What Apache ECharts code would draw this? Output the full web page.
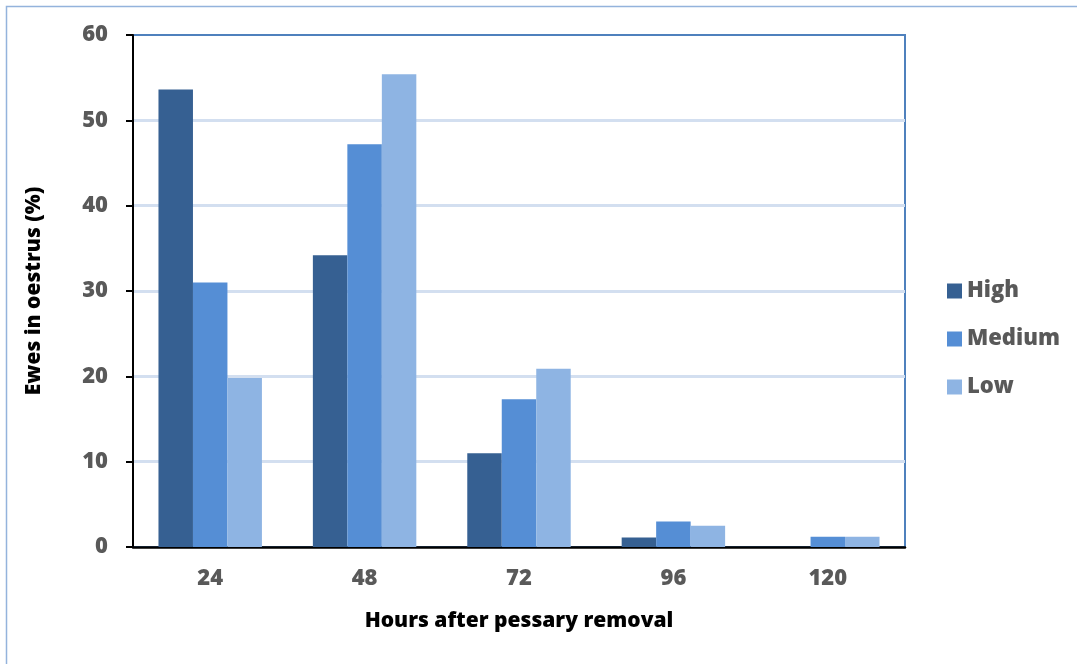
<!DOCTYPE html>
<html>
<head>
<meta charset="utf-8">
<script src="https://cdn.jsdelivr.net/npm/echarts@6/dist/echarts.min.js"></script>
<style>
  html, body { margin: 0; padding: 0; background: #fff; }
  #chart { width: 1077px; height: 664px; }
</style>
</head>
<body>
<div id="chart"></div>
<script>
// Hours after pessary removal
const hours = ['24', '48', '72', '96', '120'];
// Percentage of ewes in oestrus per group
const highValues = [53.6, 34.2, 11.0, 1.1, 0];
const mediumValues = [31.0, 47.2, 17.3, 3.0, 1.2];
const lowValues = [19.8, 55.4, 20.9, 2.5, 1.2];
const seriesNames = ['High', 'Medium', 'Low'];
const seriesColors = ['#366092', '#558ed5', '#8eb4e3'];

const FONT = '"Open Sans", sans-serif';
const WEIGHT = 800;

const chart = echarts.init(document.getElementById('chart'), null, { renderer: 'canvas' });

const makeBar = (name, data, color) => ({
  name: name,
  type: 'bar',
  data: data,
  barGap: '0%',
  barCategoryGap: '33%',
  itemStyle: { color: color, borderWidth: 0 },
  emphasis: { disabled: true }
});

chart.setOption({
  animation: false,
  backgroundColor: '#ffffff',
  graphic: [{
    type: 'rect',
    shape: { x: 6.5, y: 6.5, width: 1200, height: 800 },
    style: { fill: 'none', stroke: '#94b3dc', lineWidth: 1.5 },
    silent: true
  }],
  grid: {
    left: 133, top: 35, right: 172, bottom: 117,
    show: true,
    borderColor: '#4f81bd',
    borderWidth: 2,
    backgroundColor: 'transparent'
  },
  legend: {
    orient: 'vertical',
    left: 942,
    top: 273,
    itemWidth: 15,
    itemHeight: 15,
    itemGap: 22,
    itemTextGap: 6,
    icon: 'rect',
    data: seriesNames,
    textStyle: { fontFamily: FONT, fontWeight: WEIGHT, fontSize: 22, lineHeight: 26, color: '#595959' }
  },
  xAxis: {
    type: 'category',
    data: hours,
    name: 'Hours after pessary removal',
    nameLocation: 'middle',
    nameGap: 64,
    nameTextStyle: { fontFamily: FONT, fontWeight: WEIGHT, fontSize: 21, color: '#000' },
    axisLine: { show: true, lineStyle: { color: '#000', width: 2.5 } },
    axisTick: { show: false },
    axisLabel: { fontFamily: FONT, fontWeight: WEIGHT, fontSize: 22, color: '#595959', margin: 21 },
    splitLine: { show: false }
  },
  yAxis: {
    type: 'value',
    min: 0,
    max: 60,
    interval: 10,
    name: 'Ewes in oestrus (%)',
    nameLocation: 'middle',
    nameGap: 88,
    nameTextStyle: { fontFamily: FONT, fontWeight: WEIGHT, fontSize: 21, color: '#000' },
    axisLine: { show: true, lineStyle: { color: '#000', width: 2 } },
    axisTick: { show: true, length: 7, lineStyle: { color: '#000', width: 2 } },
    axisLabel: { fontFamily: FONT, fontWeight: WEIGHT, fontSize: 22, color: '#595959', margin: 25 },
    splitLine: { show: true, showMaxLine: false, showMinLine: false, lineStyle: { color: '#d3dff0', width: 3 } }
  },
  series: [
    makeBar(seriesNames[0], highValues, seriesColors[0]),
    makeBar(seriesNames[1], mediumValues, seriesColors[1]),
    makeBar(seriesNames[2], lowValues, seriesColors[2])
  ]
});
</script>
</body>
</html>
